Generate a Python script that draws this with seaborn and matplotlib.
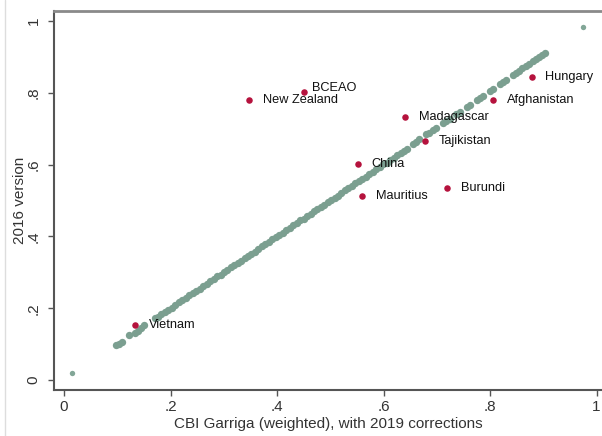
import pandas as pd
import matplotlib
matplotlib.use("Agg")
import matplotlib.pyplot as plt
import seaborn as sns
from matplotlib.lines import Line2D

# countries flagged in red
countries = ["Vietnam", "New Zealand", "BCEAO", "Madagascar", "Hungary",
             "Afghanistan", "Tajikistan", "China", "Mauritius", "Burundi"]
red_x = [0.133, 0.347, 0.450, 0.640, 0.878, 0.805, 0.677, 0.552, 0.559, 0.720]
red_y = [0.153, 0.780, 0.802, 0.733, 0.844, 0.780, 0.666, 0.602, 0.513, 0.535]

# all other countries (close to the 45-degree line)
green_x = [0.098, 0.104, 0.109, 0.122, 0.133, 0.139, 0.145, 0.151,
           0.170, 0.177, 0.183, 0.190, 0.196, 0.203, 0.209, 0.216, 0.222, 0.229,
           0.235, 0.242, 0.248, 0.255, 0.261, 0.268, 0.274, 0.281, 0.287, 0.294,
           0.300, 0.307, 0.313, 0.320, 0.326, 0.333, 0.339, 0.346, 0.352, 0.359,
           0.365, 0.372, 0.378, 0.385, 0.391, 0.398, 0.404, 0.411, 0.417, 0.424,
           0.430, 0.437, 0.443, 0.450, 0.456, 0.463, 0.469, 0.476, 0.482, 0.489,
           0.495, 0.502, 0.508, 0.515, 0.521, 0.528, 0.534, 0.541, 0.547, 0.554,
           0.560, 0.567, 0.573, 0.580, 0.586, 0.593, 0.599, 0.606, 0.612, 0.619,
           0.625, 0.632, 0.638, 0.645,
           0.655, 0.661, 0.667, 0.680, 0.686, 0.692, 0.698, 0.712, 0.718, 0.724,
           0.737, 0.743, 0.756, 0.762, 0.775, 0.781, 0.787, 0.800, 0.806, 0.818,
           0.824, 0.830, 0.843, 0.849, 0.855, 0.861, 0.868, 0.874, 0.880, 0.886,
           0.892, 0.898, 0.903]
green_y = [0.097, 0.101, 0.106, 0.124, 0.131, 0.137, 0.146, 0.152,
           0.172, 0.176, 0.185, 0.190, 0.196, 0.201, 0.210, 0.216, 0.223, 0.228,
           0.237, 0.241, 0.248, 0.253, 0.262, 0.268, 0.275, 0.280, 0.289, 0.293,
           0.300, 0.305, 0.314, 0.320, 0.327, 0.332, 0.341, 0.345, 0.352, 0.357,
           0.366, 0.372, 0.379, 0.384, 0.393, 0.397, 0.404, 0.409, 0.418, 0.424,
           0.431, 0.436, 0.445, 0.449, 0.456, 0.461, 0.470, 0.476, 0.483, 0.488,
           0.497, 0.501, 0.508, 0.513, 0.522, 0.528, 0.535, 0.540, 0.549, 0.553,
           0.560, 0.565, 0.574, 0.580, 0.587, 0.592, 0.601, 0.605, 0.612, 0.617,
           0.626, 0.632, 0.639, 0.644,
           0.658, 0.664, 0.670, 0.684, 0.689, 0.696, 0.702, 0.716, 0.722, 0.728,
           0.742, 0.747, 0.761, 0.767, 0.780, 0.786, 0.792, 0.806, 0.811, 0.824,
           0.830, 0.836, 0.850, 0.856, 0.862, 0.868, 0.875, 0.881, 0.888, 0.894,
           0.900, 0.906, 0.911]

# two isolated points at the corners
corner_x = [0.015, 0.974]
corner_y = [0.020, 0.983]

tick_vals = [0, 0.2, 0.4, 0.6, 0.8, 1]
tick_labels = ["0", ".2", ".4", ".6", ".8", "1"]

sns.set_style("white")
plt.rcParams["font.family"] = ["Liberation Sans", "DejaVu Sans"]

green = pd.DataFrame({"x": green_x, "y": green_y})
corner = pd.DataFrame({"x": corner_x, "y": corner_y})
red = pd.DataFrame({"x": red_x, "y": red_y, "country": countries})

fig = plt.figure(figsize=(6.02, 4.36), dpi=100)
ax = fig.add_axes([0.0897, 0.1055, 0.9103, 0.8693])

sns.scatterplot(data=green, x="x", y="y", ax=ax, color="#7b9f90",
                s=28, linewidth=0)
sns.scatterplot(data=corner, x="x", y="y", ax=ax, color="#82a697",
                s=15, linewidth=0)
sns.scatterplot(data=red, x="x", y="y", ax=ax, color="#b5123d",
                s=22, linewidth=0)

for _, row in red.iterrows():
    dx, dy = 10, 0
    if row["country"] == "BCEAO":
        dx, dy = 6, 3
    ax.annotate(row["country"], (row["x"], row["y"]), xytext=(dx, dy),
                textcoords="offset points", fontsize=9.2, va="center",
                ha="left", color="#111111")

ax.set_xlim(-0.0188, 1.0103)
ax.set_ylim(-0.0279, 1.0279)
ax.set_xticks(tick_vals)
ax.set_xticklabels(tick_labels)
ax.set_yticks(tick_vals)
ax.set_yticklabels(tick_labels, rotation=90, va="center")
ax.tick_params(axis="both", bottom=True, left=True, direction="out",
               length=4, width=1, color="#555555", labelsize=11,
               labelcolor="#333333")
ax.tick_params(axis="x", pad=3.5)
ax.tick_params(axis="y", pad=5.5)
ax.set_xlabel("CBI Garriga (weighted), with 2019 corrections",
              fontsize=11, color="#333333", labelpad=1.5)
ax.set_ylabel("2016 version", fontsize=11, color="#333333", labelpad=0)

for side in ["left", "bottom"]:
    ax.spines[side].set_color("#555555")
    ax.spines[side].set_linewidth(1.5)
ax.spines["top"].set_color("#8a8a8a")
ax.spines["top"].set_linewidth(2)
ax.spines["right"].set_visible(False)

# thin page border on the left
fig.add_artist(Line2D([0.009, 0.009], [0, 1], color="#dddddd", linewidth=1,
                      transform=fig.transFigure))

fig.savefig("out.png", dpi=100)
plt.close(fig)
